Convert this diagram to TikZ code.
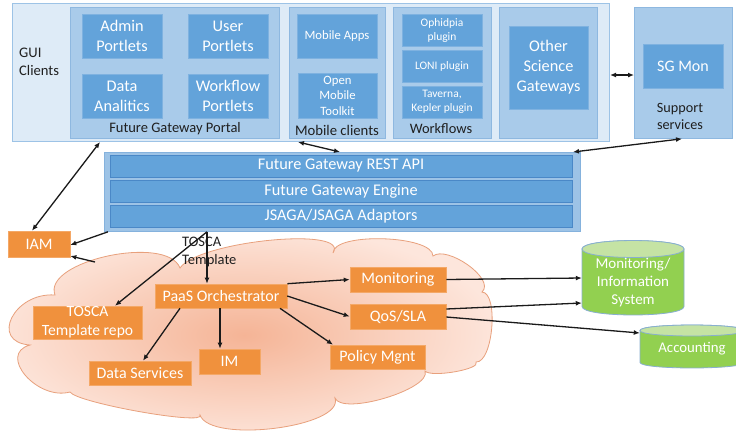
\documentclass[tikz,border=0pt]{standalone}
\usepackage{fontspec}
\setmainfont{Carlito}
\usetikzlibrary{arrows.meta}
\definecolor{outerfill}{HTML}{DEEBF7}
\definecolor{outerline}{HTML}{9DC3E6}
\definecolor{contfill}{HTML}{A9CBEA}
\definecolor{contline}{HTML}{8EB8E0}
\definecolor{bboxfill}{HTML}{63A3DA}
\definecolor{bboxline}{HTML}{7FB2E0}
\definecolor{fgfill}{HTML}{9DC3E6}
\definecolor{fgline}{HTML}{85B2DD}
\definecolor{barline}{HTML}{4A88C7}
\definecolor{ofill}{HTML}{F0913D}
\definecolor{oline}{HTML}{F4A867}
\definecolor{cloudin}{HTML}{F5B496}
\definecolor{cloudout}{HTML}{FDE6DC}
\definecolor{cloudline}{HTML}{E8A07C}
\definecolor{cylbody}{HTML}{92D050}
\definecolor{cyltop}{HTML}{C5E3A4}
\definecolor{cylline}{HTML}{88AFD0}
\definecolor{txtdark}{HTML}{1F1F1F}
\definecolor{arrcol}{HTML}{1A1A1A}
\newcommand\fsz[2]{\fontsize{#1}{#2}\selectfont}
\begin{document}
\begin{tikzpicture}[x=1pt,y=-1pt,
  >={Latex[length=6pt,width=5pt]},
  guibox/.style={draw=outerline, fill=outerfill, line width=1pt, inner sep=0pt, anchor=north west},
  cont/.style={draw=contline, fill=contfill, line width=0.8pt, inner sep=0pt, anchor=north west},
  bbox/.style={draw=bboxline, fill=bboxfill, line width=0.8pt, text=white, align=center, inner sep=0pt},
  bar/.style={draw=barline, fill=bboxfill, line width=0.8pt, text=white, inner sep=0pt, minimum width=462, minimum height=22, font=\fsz{16.3}{20}},
  obox/.style={draw=oline, fill=ofill, line width=0.6pt, text=white, align=center, inner sep=0pt, font=\fsz{16}{19}},
  lbl/.style={text=txtdark, align=center, inner sep=0pt},
  cyltxt/.style={text=white, align=center, inner sep=0pt},
  arr/.style={draw=arrcol, line width=1.3pt, ->},
  dbl/.style={draw=arrcol, line width=1.3pt, <->}]
\useasboundingbox (0,0) rectangle (736,432);
\clip (0,0) rectangle (736,432);
\fill[white] (0,0) rectangle (736,432);

% GUI clients
\node[guibox, minimum width=597, minimum height=138] (gui) at (12,3) {};
\node[lbl, align=left, anchor=west, font=\fsz{14.6}{18}] (guil) at (19,62) {GUI\\Clients};

\node[cont, minimum width=209, minimum height=131] (portal) at (70,7) {};
\node[bbox, minimum width=80, minimum height=44, font=\fsz{16.3}{20}] (admin) at (122,36) {Admin\\Portlets};
\node[bbox, minimum width=80, minimum height=44, font=\fsz{16.3}{20}] (user) at (228,36) {User\\Portlets};
\node[bbox, minimum width=80, minimum height=44, font=\fsz{16.3}{20}] (data) at (122,96) {Data\\Analitics};
\node[bbox, minimum width=80, minimum height=44, font=\fsz{16.3}{20}] (wf) at (228,96) {Workflow\\Portlets};
\node[lbl, font=\fsz{14.5}{17}] (portall) at (175,129) {Future Gateway Portal};

\node[cont, minimum width=96, minimum height=131] (mobile) at (289,7) {};
\node[bbox, minimum width=80, minimum height=44, font=\fsz{12.7}{15.5}] (mapps) at (337,36) {Mobile Apps};
\node[bbox, minimum width=79, minimum height=45, font=\fsz{12.7}{15.5}] (omt) at (337.5,95.5) {Open\\Mobile\\Toolkit};
\node[lbl, font=\fsz{14.7}{17}] (mobilel) at (337,130) {Mobile clients};

\node[cont, minimum width=98, minimum height=131] (wflows) at (393,7) {};
\node[bbox, minimum width=80, minimum height=32, font=\fsz{11.5}{14}] (ophid) at (442,30) {Ophidpia\\plugin};
\node[bbox, minimum width=80, minimum height=32, font=\fsz{11.5}{14}] (loni) at (442,66) {LONI plugin};
\node[bbox, minimum width=80, minimum height=32, font=\fsz{11.5}{13.5}] (tav) at (442,102) {Taverna,\\Kepler plugin};
\node[lbl, font=\fsz{14.4}{17}] (wfl) at (441,129) {Workflows};

\node[cont, minimum width=98, minimum height=131] (osgc) at (499,7) {};
\node[bbox, minimum width=79, minimum height=83, font=\fsz{16.3}{20}] (osg) at (548.5,67.5) {Other\\Science\\Gateways};

\node[cont, minimum width=98, minimum height=131] (support) at (634,7) {};
\node[bbox, minimum width=80, minimum height=44, font=\fsz{16}{20}] (sgmon) at (683,66) {SG Mon};
\node[lbl, font=\fsz{14.2}{17.5}] (supl) at (680,116.5) {Support\\services};

% Future Gateway stack
\node[draw=fgline, fill=fgfill, line width=0.8pt, inner sep=0pt, minimum width=476, minimum height=79, anchor=north west] (fg) at (104,152) {};
\node[bar] (rest) at (341,166) {Future Gateway REST API};
\node[bar] (engine) at (341,191) {Future Gateway Engine};
\node[bar] (jsaga) at (341,216) {JSAGA/JSAGA Adaptors};

% cloud
\path[draw=cloudline, line width=0.8pt, inner color=cloudin, outer color=cloudout]
  (55,295) .. controls (42,261) and (167,234) .. (180,268)
  .. controls (198,241) and (351,226) .. (333,253)
  .. controls (333,232) and (433,235) .. (433,256)
  .. controls (447,245) and (496,279) .. (482,292)
  .. controls (499,293) and (493,363) .. (476,362)
  .. controls (482,369) and (431,378) .. (425,371)
  .. controls (432,389) and (342,416) .. (335,398)
  .. controls (345,427) and (210,444) .. (200,415)
  .. controls (207,426) and (77,403) .. (70,392)
  .. controls (37,401) and (-3,354) .. (30,345)
  .. controls (-11,342) and (14,292) .. (55,295) -- cycle;
\coordinate (cloudtip) at (95,262);

% cylinders
\path[draw=cylline, fill=cylbody, line width=0.8pt] (582,249) -- (582,306.5) .. controls (582,317.8) and (684,317.8) .. (684,306.5) -- (684,249) .. controls (684,237.7) and (582,237.7) .. (582,249) -- cycle;
\path[draw=cylline, fill=cyltop, line width=0.8pt] (582,249) .. controls (582,237.7) and (684,237.7) .. (684,249) .. controls (684,260.3) and (582,260.3) .. (582,249) -- cycle;
\path[draw=cylline, fill=cylbody, line width=0.8pt] (640,330.5) -- (640,362.5) .. controls (640,369.8) and (744,369.8) .. (744,362.5) -- (744,330.5) .. controls (744,323.2) and (640,323.2) .. (640,330.5) -- cycle;
\path[draw=cylline, fill=cyltop, line width=0.8pt] (640,330.5) .. controls (640,323.2) and (744,323.2) .. (744,330.5) .. controls (744,337.8) and (640,337.8) .. (640,330.5) -- cycle;
\node[cyltxt, font=\fsz{15}{18}, minimum width=102, minimum height=60] (mis) at (633,282) {Monitoring/\\Information\\System};
\node[cyltxt, font=\fsz{14.8}{18}, minimum width=104, minimum height=30] (acc) at (692,349) {Accounting};

% orange boxes
\node[obox, minimum width=62, minimum height=26] (iam) at (39,244) {IAM};
\node[obox, minimum width=132, minimum height=24] (paas) at (221,296) {PaaS Orchestrator};
\node[obox, minimum width=109, minimum height=33, font=\fsz{15.6}{19}] (repo) at (87.5,322.5) {TOSCA\\Template repo};
\node[obox, minimum width=102, minimum height=24] (ds) at (140,373) {Data Services};
\node[obox, minimum width=61, minimum height=25] (im) at (229.5,361.5) {IM};
\node[obox, minimum width=95, minimum height=24] (policy) at (377.5,357) {Policy Mgnt};
\node[obox, minimum width=96, minimum height=25] (mon) at (398,279.5) {Monitoring};
\node[obox, minimum width=96, minimum height=25] (qos) at (398,316.5) {QoS/SLA};

\node[lbl, align=left, anchor=west, font=\fsz{14.5}{18}] (tlbl) at (182,252) {TOSCA\\Template};

% connectors
\draw[dbl] (gui.south -| 100,0) -- (iam.north -| 32,0);
\draw[dbl] (gui.south -| 298,0) -- (fg.north -| 340,0);
\draw[dbl] (support.south -| 682,0) -- (fg.north -| 573,0);
\draw[dbl] (gui.east |- 0,75) -- (support.west |- 0,75);
\draw[arr] (fg.south -| 108,0) -- (iam.east |- 0,245);
\draw[arr] (cloudtip) -- (iam.east |- 0,256);
\draw[arr] (fg.south -| 207,0) -- (paas.north -| 207,0);
\draw[arr] (fg.south -| 207,0) -- (repo.north -| 115,0);
\draw[arr] (paas.north east) -- (mon.west);
\draw[arr] (paas.east) -- (qos.west);
\draw[arr] (paas.south -| 280,0) -- (policy.north -| 333,0);
\draw[arr] (paas.south -| 220,0) -- (im.north -| 220,0);
\draw[arr] (paas.south -| 180,0) -- (ds.north -| 143,0);
\draw[arr] (mon.east) -- (mis.west |- 0,278);
\draw[arr] (qos.east |- 0,309) -- (mis.west |- 0,303);
\draw[arr] (qos.east |- 0,317) -- (acc.west |- 0,333);
\end{tikzpicture}
\end{document}
